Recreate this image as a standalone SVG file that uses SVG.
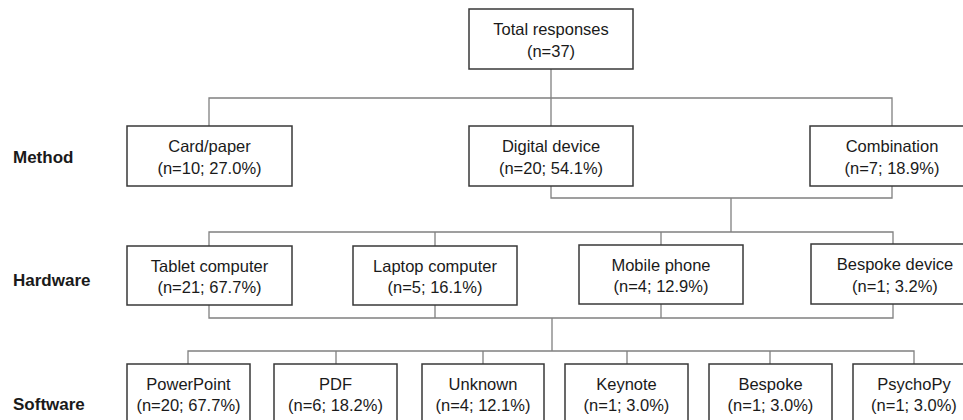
<svg xmlns="http://www.w3.org/2000/svg" width="963" height="420" viewBox="0 0 963 420">
<style>
.box{fill:#fff;stroke:#383838;stroke-width:1.5}
.t{font-family:"Liberation Sans",Arial,sans-serif;font-size:16.5px;fill:#1a1a1a;text-anchor:middle}
.lbl{font-family:"Liberation Sans",Arial,sans-serif;font-size:17px;font-weight:bold;fill:#1a1a1a}
.c{fill:none;stroke:#808080;stroke-width:1.3}
</style>
<rect width="963" height="420" fill="#fff"/>
<g id="connectors">
<path class="c" d="M551 69V126M209 126V98H892V126"/>
<path class="c" d="M551 186V198H892V186M731 198V232"/>
<path class="c" d="M209 246V232H893V244M435 232V246M661 232V245"/>
<path class="c" d="M209 305V318H893V304M435 305V318M661 304V318M552 318V351"/>
<path class="c" d="M188 364V351H914V364M336 351V364M483 351V364M627 351V364M770 351V364"/>
</g>
<g id="label-method"><text class="lbl" x="13" y="163">Method</text></g>
<g id="label-hardware"><text class="lbl" x="13" y="286">Hardware</text></g>
<g id="label-software"><text class="lbl" x="13" y="410">Software</text></g>
<g id="total"><rect class="box" x="469" y="9" width="164" height="60"/><text class="t" x="551" y="35">Total responses</text><text class="t" x="551" y="57">(n=37)</text></g>
<g id="card"><rect class="box" x="127" y="126" width="165" height="60"/><text class="t" x="209.5" y="152">Card/paper</text><text class="t" x="209.5" y="174">(n=10; 27.0%)</text></g>
<g id="digital"><rect class="box" x="469" y="126" width="164" height="60"/><text class="t" x="551" y="152">Digital device</text><text class="t" x="551" y="174">(n=20; 54.1%)</text></g>
<g id="combination"><rect class="box" x="810" y="126" width="165" height="60"/><text class="t" x="892" y="152">Combination</text><text class="t" x="892" y="174">(n=7; 18.9%)</text></g>
<g id="tablet"><rect class="box" x="127" y="246" width="165" height="59"/><text class="t" x="209.5" y="272">Tablet computer</text><text class="t" x="209.5" y="293">(n=21; 67.7%)</text></g>
<g id="laptop"><rect class="box" x="353" y="246" width="164" height="59"/><text class="t" x="435" y="272">Laptop computer</text><text class="t" x="435" y="293">(n=5; 16.1%)</text></g>
<g id="mobile"><rect class="box" x="579" y="245" width="164" height="59"/><text class="t" x="661" y="271">Mobile phone</text><text class="t" x="661" y="292">(n=4; 12.9%)</text></g>
<g id="bespoke-device"><rect class="box" x="811" y="244" width="164" height="60"/><text class="t" x="895" y="270">Bespoke device</text><text class="t" x="895" y="292">(n=1; 3.2%)</text></g>
<g id="powerpoint"><rect class="box" x="127" y="364" width="123" height="60"/><text class="t" x="188.5" y="390">PowerPoint</text><text class="t" x="188.5" y="411">(n=20; 67.7%)</text></g>
<g id="pdf"><rect class="box" x="274" y="364" width="123" height="60"/><text class="t" x="335.5" y="390">PDF</text><text class="t" x="335.5" y="411">(n=6; 18.2%)</text></g>
<g id="unknown"><rect class="box" x="422" y="364" width="122" height="60"/><text class="t" x="483" y="390">Unknown</text><text class="t" x="483" y="411">(n=4; 12.1%)</text></g>
<g id="keynote"><rect class="box" x="565" y="364" width="123" height="60"/><text class="t" x="626.5" y="390">Keynote</text><text class="t" x="626.5" y="411">(n=1; 3.0%)</text></g>
<g id="bespoke"><rect class="box" x="709" y="364" width="123" height="60"/><text class="t" x="770.5" y="390">Bespoke</text><text class="t" x="770.5" y="411">(n=1; 3.0%)</text></g>
<g id="psychopy"><rect class="box" x="853" y="364" width="123" height="60"/><text class="t" x="914" y="390">PsychoPy</text><text class="t" x="914" y="411">(n=1; 3.0%)</text></g>
</svg>
